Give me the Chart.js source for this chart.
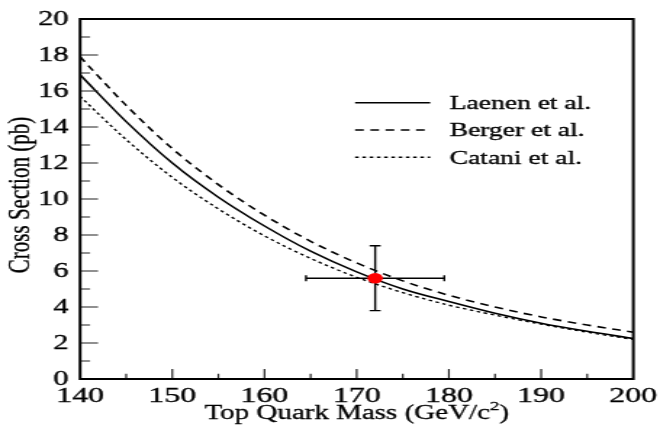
<!DOCTYPE html>
<html>
<head>
<meta charset="utf-8">
<script src="https://cdn.jsdelivr.net/npm/chart.js@4.4.0/dist/chart.umd.min.js"></script>
<style>
  html, body { margin: 0; padding: 0; background: #fff; }
</style>
</head>
<body>
<!-- drawn narrow, then stretched sideways like the original plot -->
<canvas id="xsec" width="455" height="432" style="width:660px;height:432px;display:block"></canvas>
<script>
const masses = [140, 145, 150, 155, 160, 165, 170, 175, 180, 185, 190, 195, 200];
const laenen = [16.9, 14.3, 12.0, 10.1, 8.5, 7.1, 5.95, 5.0, 4.3, 3.65, 3.1, 2.65, 2.25];
const berger = [17.9, 15.2, 12.8, 10.8, 9.1, 7.65, 6.45, 5.45, 4.65, 4.0, 3.45, 3.0, 2.6];
const catani = [15.7, 13.3, 11.2, 9.45, 7.95, 6.7, 5.65, 4.8, 4.1, 3.55, 3.05, 2.6, 2.2];
const seriesNames = ["Laenen et al.", "Berger et al.", "Catani et al."];

const measuredMass = [172];
const measuredXsec = [5.6];
const massErr = [7.5];
const xsecErr = [1.8];

const xTicks = [140, 150, 160, 170, 180, 190, 200];
const yTicks = [0, 2, 4, 6, 8, 10, 12, 14, 16, 18, 20];

const serif = "'Liberation Serif', serif";

function curve(values) {
  return masses.map((m, i) => ({ x: m, y: values[i] }));
}

// text slightly heavier, like the scanned original
function heavyText(ctx, txt, x, y) {
  ctx.fillText(txt, x, y);
  ctx.strokeText(txt, x, y);
}

const framePlugin = {
  id: "frame",
  beforeDatasetsDraw(chart) {
    const ctx = chart.ctx;
    const xs = chart.scales.x, ys = chart.scales.y;
    ctx.save();
    ctx.strokeStyle = "#000";
    ctx.lineWidth = 1.4;
    for (let i = 0; i < measuredMass.length; i++) {
      const xl = xs.getPixelForValue(measuredMass[i] - massErr[i]);
      const xr = xs.getPixelForValue(measuredMass[i] + massErr[i]);
      const xc = xs.getPixelForValue(measuredMass[i]);
      const yc = ys.getPixelForValue(measuredXsec[i]);
      const yt = ys.getPixelForValue(measuredXsec[i] + xsecErr[i]);
      const yb = ys.getPixelForValue(measuredXsec[i] - xsecErr[i]);
      ctx.beginPath();
      ctx.moveTo(xl, yc); ctx.lineTo(xr, yc);
      ctx.moveTo(xl, yc - 3); ctx.lineTo(xl, yc + 3);
      ctx.moveTo(xr, yc - 3); ctx.lineTo(xr, yc + 3);
      ctx.moveTo(xc, yt); ctx.lineTo(xc, yb);
      ctx.moveTo(xc - 3.8, yt); ctx.lineTo(xc + 3.8, yt);
      ctx.moveTo(xc - 3.8, yb); ctx.lineTo(xc + 3.8, yb);
      ctx.stroke();
    }
    ctx.restore();
  },
  afterDraw(chart) {
    const ctx = chart.ctx;
    const a = chart.chartArea;
    const xs = chart.scales.x, ys = chart.scales.y;
    ctx.save();

    // inside ticks
    ctx.strokeStyle = "#222";
    ctx.lineWidth = 1.2;
    ctx.beginPath();
    for (let v = 1; v < 20; v++) {
      const y = ys.getPixelForValue(v);
      const len = v % 2 === 0 ? 12.4 : 6.9;
      ctx.moveTo(a.left, y); ctx.lineTo(a.left + len, y);
    }
    for (let m = 145; m < 200; m += 5) {
      const x = xs.getPixelForValue(m);
      const len = m % 10 === 0 ? 10 : 5.3;
      ctx.moveTo(x, a.bottom); ctx.lineTo(x, a.bottom - len);
    }
    ctx.stroke();

    // frame
    ctx.strokeStyle = "#000";
    ctx.lineWidth = 2;
    ctx.strokeRect(a.left, a.top, a.right - a.left, a.bottom - a.top);

    // legend
    const rows = [102.7, 130, 157.3];
    ctx.fillStyle = "#000";
    ctx.font = "19px " + serif;
    ctx.textAlign = "left";
    ctx.textBaseline = "middle";
    for (let i = 0; i < 3; i++) {
      const ds = chart.data.datasets[i + 1];
      ctx.strokeStyle = "#000";
      ctx.lineWidth = ds.borderWidth;
      ctx.setLineDash(ds.borderDash || []);
      ctx.beginPath();
      ctx.moveTo(244.8, rows[i]); ctx.lineTo(296.6, rows[i]);
      ctx.stroke();
      ctx.setLineDash([]);
      ctx.lineWidth = 0.35;
      heavyText(ctx, ds.label, 310, rows[i] + 1.5);
    }

    // x title with superscript
    const mainTxt = "Top Quark Mass (GeV/c";
    ctx.lineWidth = 0.3;
    ctx.textBaseline = "alphabetic";
    ctx.font = "20px " + serif;
    const w1 = ctx.measureText(mainTxt).width;
    const w3 = ctx.measureText(")").width;
    ctx.font = "13px " + serif;
    const w2 = ctx.measureText("2").width;
    let x0 = (a.left + a.right) / 2 - (w1 + w2 + w3) / 2;
    ctx.font = "20px " + serif;
    heavyText(ctx, mainTxt, x0, 419);
    ctx.font = "13px " + serif;
    heavyText(ctx, "2", x0 + w1, 410);
    ctx.font = "20px " + serif;
    heavyText(ctx, ")", x0 + w1 + w2, 419);

    // y title
    ctx.translate(14.8, 195);
    ctx.rotate(-Math.PI / 2);
    ctx.textAlign = "center";
    ctx.textBaseline = "middle";
    ctx.font = "21px " + serif;
    heavyText(ctx, "Cross Section (pb)", 0, 0);
    ctx.restore();
  }
};

function buildChart() {
  new Chart(document.getElementById("xsec"), {
    type: "line",
    data: {
      datasets: [
        {
          label: "Measured",
          type: "scatter",
          data: measuredMass.map((m, i) => ({ x: m, y: measuredXsec[i] })),
          pointRadius: 5.3,
          pointBackgroundColor: "#ff0000",
          pointBorderColor: "#ff0000",
          pointBorderWidth: 0,
          showLine: false
        },
        {
          label: seriesNames[0],
          data: curve(laenen),
          borderColor: "#000",
          borderWidth: 1.6,
          pointRadius: 0,
          cubicInterpolationMode: "monotone",
          fill: false
        },
        {
          label: seriesNames[1],
          data: curve(berger),
          borderColor: "#000",
          borderWidth: 1.6,
          borderDash: [6, 4.5],
          pointRadius: 0,
          cubicInterpolationMode: "monotone",
          fill: false
        },
        {
          label: seriesNames[2],
          data: curve(catani),
          borderColor: "#000",
          borderWidth: 1.4,
          borderDash: [2.5, 2.5],
          pointRadius: 0,
          cubicInterpolationMode: "monotone",
          fill: false
        }
      ]
    },
    options: {
      responsive: false,
      animation: false,
      devicePixelRatio: 1,
      layout: { padding: { top: 19, right: 18.4, left: 0, bottom: 0 } },
      plugins: { legend: { display: false }, tooltip: { enabled: false } },
      scales: {
        x: {
          type: "linear",
          min: 140,
          max: 200,
          grid: { display: false, drawTicks: false },
          border: { display: false },
          ticks: {
            font: { family: serif, size: 22 }, color: "#000", padding: 4,
            autoSkip: false, maxRotation: 0, textStrokeColor: "#000", textStrokeWidth: 0.35
          },
          afterBuildTicks: s => { s.ticks = xTicks.map(v => ({ value: v })); },
          afterFit: s => { s.height = 53; s.paddingLeft = 0; s.paddingRight = 0; }
        },
        y: {
          type: "linear",
          min: 0,
          max: 20,
          grid: { display: false, drawTicks: false },
          border: { display: false },
          ticks: {
            font: { family: serif, size: 21 }, color: "#000", padding: 8,
            autoSkip: false, textStrokeColor: "#000", textStrokeWidth: 0.35
          },
          afterBuildTicks: s => { s.ticks = yTicks.map(v => ({ value: v })); },
          afterFit: s => { s.width = 55.2; s.paddingTop = 0; s.paddingBottom = 0; }
        }
      }
    },
    plugins: [framePlugin]
  });
}

// make sure the serif face is ready before the first paint
Promise.all([
  document.fonts.load("20px 'Liberation Serif'"),
  document.fonts.load("13px 'Liberation Serif'")
]).then(buildChart, buildChart);
</script>
</body>
</html>
